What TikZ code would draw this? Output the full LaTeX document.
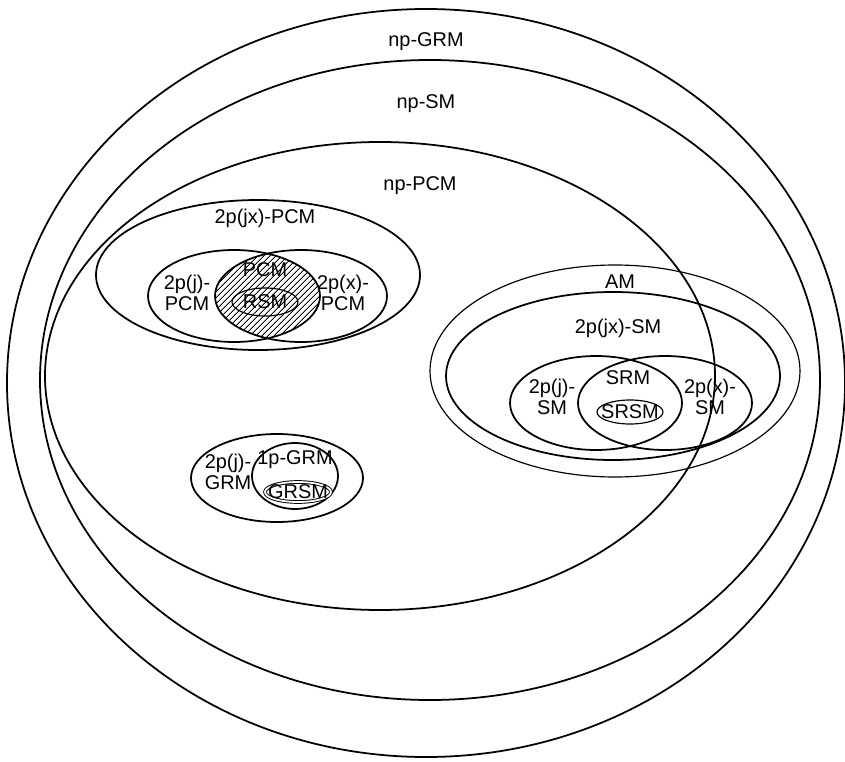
\documentclass[tikz,border=0pt]{standalone}
\usepackage{fontspec}
\setmainfont{Liberation Sans}
\usetikzlibrary{patterns.meta}

\begin{document}
\begin{tikzpicture}[x=0.03cm,y=-0.03cm]
    \useasboundingbox (0,0) rectangle (845,762);

    % hatched PCM lens
    \begin{scope}
      \clip (234,296) ellipse (86 and 46);
      \fill[pattern={Lines[angle=45,distance=4pt,line width=0.8pt]}]
           (301,296) ellipse (86 and 46);
    \end{scope}

    \begin{scope}[line width=1.5pt]
      \draw (426,383) ellipse (419 and 374);
      \draw (430,380) ellipse (390 and 320);
      \draw (380,376) ellipse (335 and 234);

      \draw (258,275) ellipse (162 and 75);
      \draw (234,296) ellipse (86 and 46);
      \draw (301,296) ellipse (86 and 46);
      \draw[line width=1pt] (265,302) ellipse (33 and 14);

      \draw[line width=1pt] (615,371) ellipse (185 and 106);
      \draw (613,376) ellipse (167 and 84);
      \draw (596,403) ellipse (86 and 47);
      \draw (665,403) ellipse (87 and 47);
      \draw[line width=1pt] (630,412) ellipse (33 and 12);

      \draw (277,478) ellipse (86 and 44);
      \draw (295,476) ellipse (43 and 33);
      \draw[line width=0.8pt,double,double distance=1.5pt] (298,492) ellipse (33 and 10);
    \end{scope}

    \begin{scope}[every node/.style={font=\fontsize{17}{18}\selectfont,align=center,inner sep=0pt}]
      \node (A) at (426,42) {np-GRM};
      \node (B) at (426,104) {np-SM};
      \node (C) at (420,186) {np-PCM};

      \node (D) at (265,218) {2p(jx)-PCM};
      \node (E) at (187,293) {2p(j)-\\PCM};
      \node (F) at (265,270) {PCM};
      \node (G) at (265,302) {RSM};
      \node (H) at (343,293) {2p(x)-\\PCM};

      \node (I) at (620,282) {AM};
      \node (J) at (618,328) {2p(jx)-SM};
      \node (K) at (552,397) {2p(j)-\\SM};
      \node (L) at (628,378) {SRM};
      \node (M) at (630,412) {SRSM};
      \node (N) at (710,397) {2p(x)-\\SM};

      \node (O) at (228,472) {2p(j)-\\GRM};
      \node (P) at (295,460) {1p-GRM};
      \node (Q) at (298,492) {GRSM};
    \end{scope}
  \end{tikzpicture}
\end{document}
